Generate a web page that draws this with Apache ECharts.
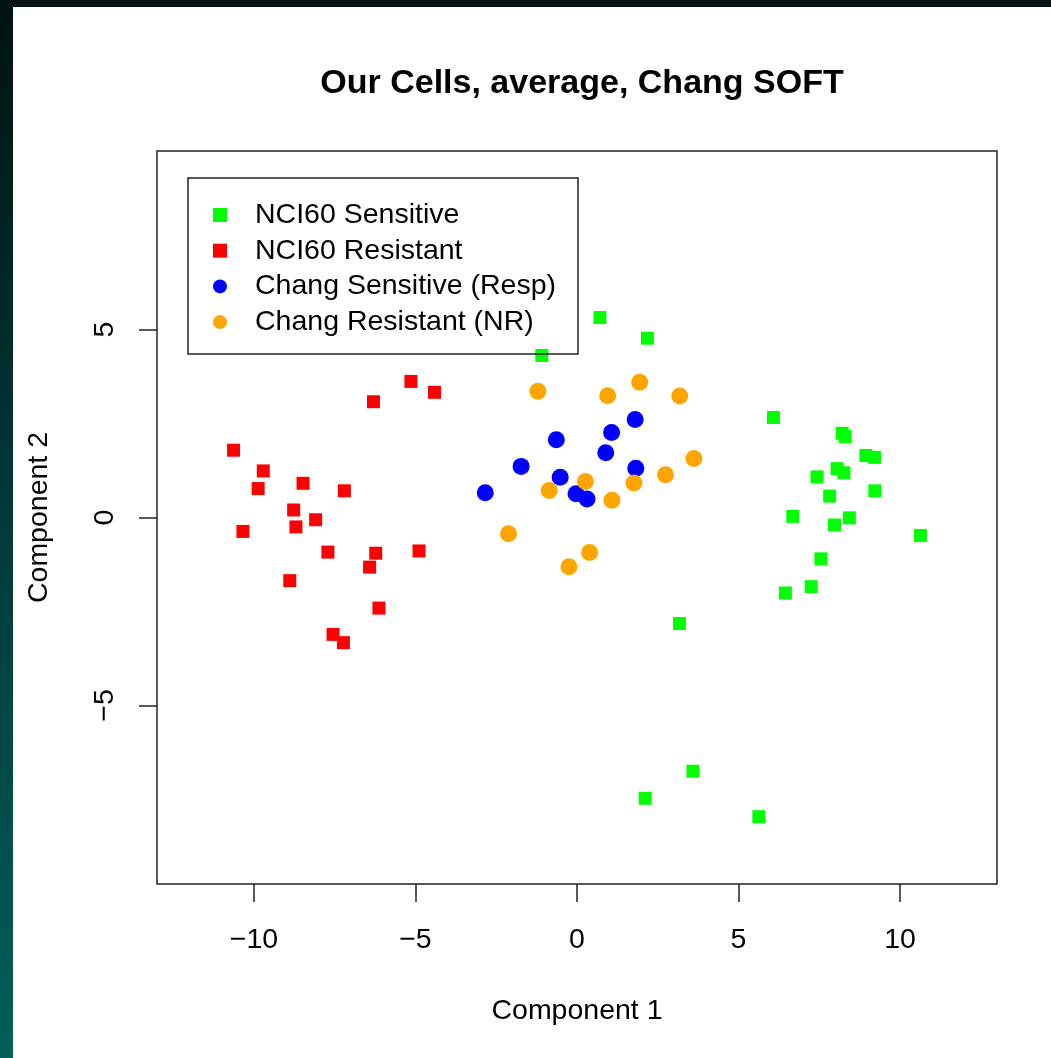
<!DOCTYPE html>
<html>
<head>
<meta charset="utf-8">
<script src="https://cdn.jsdelivr.net/npm/echarts@6/dist/echarts.min.js"></script>
<style>
  html, body { margin: 0; padding: 0; width: 1051px; height: 1058px; background: #ffffff; overflow: hidden; }
  #frameLeft { position: absolute; left: 0; top: 0; width: 13px; height: 1058px;
    background: linear-gradient(to bottom, #021212 0%, #013a3a 50%, #005f5a 100%); }
  #frameTop { position: absolute; left: 0; top: 0; width: 1051px; height: 7px; background: #031212; }
  #chart { position: absolute; left: 0; top: 0; width: 1051px; height: 1058px; }
</style>
</head>
<body>
<div id="frameLeft"></div>
<div id="frameTop"></div>
<div id="chart"></div>
<script>
// ---- data (Component 1, Component 2) ----
const nciSensitive = [
  [0.71, 5.32], [2.18, 4.77], [-1.09, 4.31], [6.08, 2.66], [8.21, 2.24], [8.30, 2.15],
  [8.94, 1.65], [9.21, 1.60], [8.05, 1.30], [8.26, 1.19], [7.43, 1.08], [9.22, 0.71],
  [7.82, 0.57], [6.68, 0.03], [8.43, -0.01], [7.97, -0.20], [10.63, -0.48], [7.55, -1.10],
  [7.25, -1.84], [6.45, -2.01], [3.17, -2.82], [3.59, -6.75], [2.11, -7.47], [5.63, -7.96]
];
const nciResistant = [
  [-5.14, 3.62], [-4.41, 3.33], [-6.30, 3.08], [-10.63, 1.79], [-9.71, 1.24], [-9.87, 0.77],
  [-8.48, 0.91], [-7.20, 0.71], [-8.77, 0.20], [-8.09, -0.06], [-8.70, -0.25], [-10.34, -0.37],
  [-7.71, -0.92], [-6.23, -0.95], [-4.89, -0.89], [-6.42, -1.32], [-8.89, -1.68], [-6.13, -2.41],
  [-7.55, -3.11], [-7.23, -3.33]
];
const changSensitive = [
  [1.80, 2.61], [1.07, 2.26], [-0.64, 2.07], [0.89, 1.72], [-1.73, 1.36], [1.82, 1.31],
  [-0.52, 1.07], [-2.84, 0.66], [-0.03, 0.63], [0.31, 0.49]
];
const changResistant = [
  [1.94, 3.60], [-1.21, 3.36], [0.95, 3.24], [3.18, 3.23], [3.62, 1.57], [2.74, 1.14],
  [0.26, 0.96], [1.76, 0.92], [-0.86, 0.72], [1.08, 0.46], [-2.12, -0.43], [0.39, -0.93],
  [-0.25, -1.31]
];
const seriesNames = ['NCI60 Sensitive', 'NCI60 Resistant', 'Chang Sensitive (Resp)', 'Chang Resistant (NR)'];
const xTicks = [-10, -5, 0, 5, 10];
const yTicks = [-5, 0, 5];
const xRange = [-13, 13];
const yRange = [-9.75, 9.75];

const FONT = 'Liberation Sans, Arial, Helvetica, sans-serif';
const minusFmt = v => String(v).replace('-', '\u2212');

const chart = echarts.init(document.getElementById('chart'), null, { renderer: 'canvas' });
chart.setOption({
  animation: false,
  backgroundColor: 'transparent',
  title: {
    text: 'Our Cells, average, Chang SOFT',
    left: 577, top: 62, textAlign: 'center',
    textStyle: { fontFamily: FONT, fontSize: 34, fontWeight: 'bold', color: '#000' }
  },
  legend: {
    orient: 'vertical', left: 208, top: 195,
    itemWidth: 14, itemHeight: 14, itemGap: 5.7,
    selectedMode: false,
    data: [
      { name: seriesNames[0], icon: 'rect' },
      { name: seriesNames[1], icon: 'rect' },
      { name: seriesNames[2], icon: 'circle' },
      { name: seriesNames[3], icon: 'circle' }
    ],
    textStyle: { fontFamily: FONT, fontSize: 28.5, lineHeight: 30, color: '#000', padding: [0, 0, 0, 23] }
  },
  graphic: [{
    type: 'rect', z: 100, silent: true,
    shape: { x: 188, y: 178, width: 390, height: 176 },
    style: { fill: 'none', stroke: '#222', lineWidth: 1.5 }
  }],
  grid: {
    left: 157, top: 151, width: 840, height: 733,
    containLabel: false, outerBoundsMode: 'none',
    show: true, borderColor: '#222', borderWidth: 1.5, backgroundColor: 'transparent'
  },
  xAxis: {
    type: 'value', min: xRange[0], max: xRange[1], position: 'bottom',
    name: 'Component 1', nameLocation: 'middle', nameGap: 113,
    nameTextStyle: { fontFamily: FONT, fontSize: 28.5, color: '#000' },
    axisLine: { show: false, onZero: false },
    splitLine: { show: false },
    axisTick: { show: true, inside: false, length: 18, customValues: xTicks, lineStyle: { color: '#222', width: 1.5 } },
    axisLabel: { show: true, customValues: xTicks, margin: 42, formatter: minusFmt,
      fontFamily: FONT, fontSize: 28.5, color: '#000' }
  },
  yAxis: {
    type: 'value', min: yRange[0], max: yRange[1], position: 'left',
    name: 'Component 2', nameLocation: 'middle', nameGap: 103,
    nameTextStyle: { fontFamily: FONT, fontSize: 28.5, color: '#000' },
    axisLine: { show: false, onZero: false },
    splitLine: { show: false },
    axisTick: { show: true, inside: false, length: 18, customValues: yTicks, lineStyle: { color: '#222', width: 1.5 } },
    axisLabel: { show: true, customValues: yTicks, margin: 37, rotate: 90, formatter: minusFmt,
      fontFamily: FONT, fontSize: 28.5, color: '#000' }
  },
  series: [
    { name: seriesNames[0], type: 'scatter', data: nciSensitive, symbol: 'rect', symbolSize: 13,
      itemStyle: { color: '#00ff00', opacity: 1 } },
    { name: seriesNames[1], type: 'scatter', data: nciResistant, symbol: 'rect', symbolSize: 13,
      itemStyle: { color: '#ff0000', opacity: 1 } },
    { name: seriesNames[2], type: 'scatter', data: changSensitive, symbol: 'circle', symbolSize: 17,
      itemStyle: { color: '#0000ff', opacity: 1 } },
    { name: seriesNames[3], type: 'scatter', data: changResistant, symbol: 'circle', symbolSize: 17,
      itemStyle: { color: '#ffa500', opacity: 1 } }
  ]
});
</script>
</body>
</html>
